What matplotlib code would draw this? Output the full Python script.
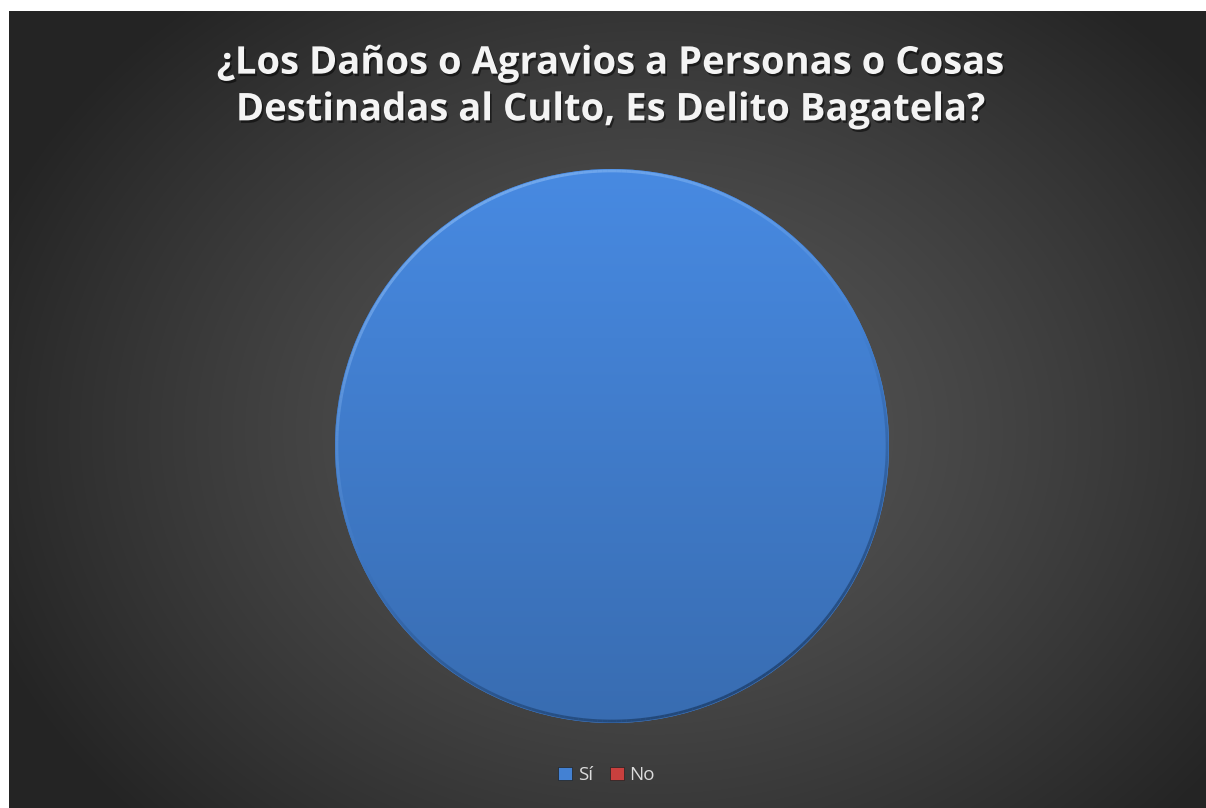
import numpy as np
import matplotlib.pyplot as plt
import matplotlib.patheffects as pe
from matplotlib.patches import Patch
from matplotlib.colors import to_rgb
from matplotlib.collections import LineCollection

# datos de la encuesta
categorias = ['Sí', 'No']
valores = [100, 0]
colores = ['#4381d3', '#c9403e']

titulo = '¿Los Daños o Agravios a Personas o Cosas\nDestinadas al Culto, Es Delito Bagatela?'

W, H = 1206, 808
fig = plt.figure(figsize=(W / 100, H / 100), dpi=100)
fig.patch.set_facecolor('white')

# fondo con degradado radial gris oscuro
bg = fig.add_axes([9 / W, 0, 1 - 9 / W, 1 - 11 / H])
yy, xx = np.mgrid[0:797, 0:1197]
d = np.sqrt(((xx - 640) / 700.0) ** 2 + ((yy - 420) / 560.0) ** 2)
d = np.clip(d, 0, 1)
g = 0.345 - 0.20 * d ** 1.3
img = np.dstack([g, g, g])
bg.imshow(img, aspect='auto', extent=[0, 1, 0, 1], interpolation='bilinear')
bg.set_axis_off()

# titulo con sombra
fig.text(0.507, 1 - 87 / H, titulo, ha='center', va='center', color='#f4f4f4',
         fontsize=27.5, fontweight='bold', family='Open Sans', linespacing=1.3,
         path_effects=[pe.withSimplePatchShadow(offset=(1.2, -1.8), shadow_rgbFace='black', alpha=0.5)])

# grafico de pastel
cx, cy, r = 612, 446, 277
ax = fig.add_axes([(cx - r) / W, 1 - (cy + r) / H, 2 * r / W, 2 * r / H])
wedges, _ = ax.pie(valores, colors=colores, startangle=90, counterclock=False, radius=1,
                   wedgeprops=dict(linewidth=0))
ax.set_xlim(-1, 1)
ax.set_ylim(-1, 1)
ax.set_axis_off()

# sombreado vertical dentro de cada porcion
for w, c in zip(wedges, colores):
    base = np.array(to_rgb(c))
    t = np.linspace(1.07, 0.84, 256)[:, None, None]
    grad = np.clip(base[None, None, :] * t, 0, 1)
    im = ax.imshow(grad, extent=[-1, 1, -1, 1], aspect='auto', zorder=2, interpolation='bilinear')
    im.set_clip_path(w)

# bisel: brillo arriba-izquierda, sombra abajo-derecha
ang = np.linspace(0, 2 * np.pi, 361)
pts = np.column_stack([0.993 * np.cos(ang), 0.993 * np.sin(ang)])
segs = np.stack([pts[:-1], pts[1:]], axis=1)
mid = (ang[:-1] + ang[1:]) / 2
luz = np.clip(np.cos(mid - np.radians(115)), 0, 1)
som = np.clip(np.cos(mid - np.radians(-65)), 0, 1)
col_luz = np.zeros((len(mid), 4))
col_luz[:, :3] = to_rgb('#8cbcf5')
col_luz[:, 3] = 0.6 * luz
col_som = np.zeros((len(mid), 4))
col_som[:, :3] = to_rgb('#17345a')
col_som[:, 3] = 0.65 * som
ax.add_collection(LineCollection(segs, colors=col_luz, linewidths=2.0, zorder=3))
ax.add_collection(LineCollection(segs, colors=col_som, linewidths=2.0, zorder=3))

# leyenda
handles = [Patch(facecolor=c, edgecolor='#222222', lw=0.5) for c in colores]
fig.legend(handles, categorias, loc='center', bbox_to_anchor=(0.503, 1 - 775 / H), ncol=2,
           frameon=False, labelcolor='#dcdcdc', handlelength=0.75,
           handleheight=0.75, handletextpad=0.3, columnspacing=0.9,
           prop={'family': 'Open Sans', 'size': 13.5})

fig.savefig('out.png', dpi=100, facecolor='white')
